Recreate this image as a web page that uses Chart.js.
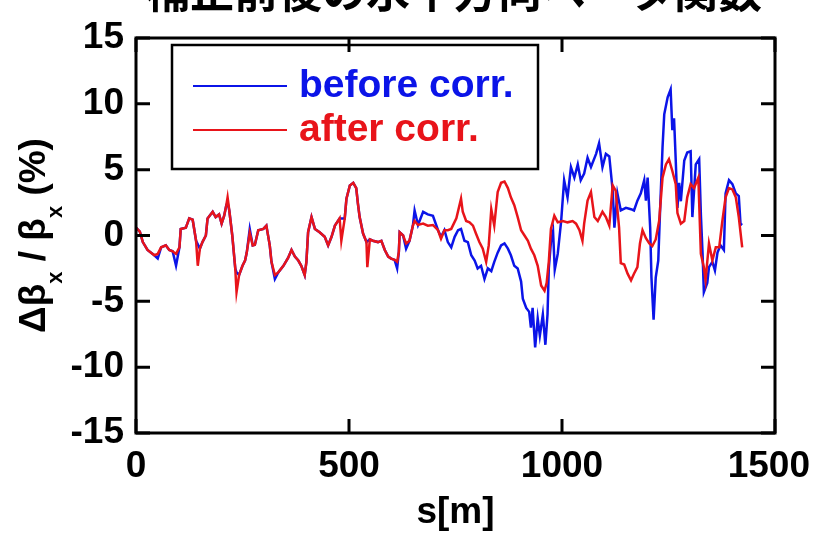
<!DOCTYPE html>
<html>
<head>
<meta charset="utf-8">
<script src="https://cdn.jsdelivr.net/npm/chart.js@4.4.0/dist/chart.umd.min.js"></script>
<style>
  body { margin: 0; background: #fff; }
</style>
</head>
<body>
<canvas id="myChart" width="814" height="535"></canvas>
<script>
var chartTitle = "補正前後の水平方向ベータ関数";
var xTicks = [0, 500, 1000, 1500];
var yTicks = [-15, -10, -5, 0, 5, 10, 15];
var seriesNames = ["before corr.", "after corr."];
var seriesColors = ["#0b14e8", "#e8141a"];

// after correction (red)
var sAfter = [0, 9, 16, 27, 43, 51, 59, 70, 78, 86, 94, 102, 105, 117, 125, 133, 141, 145, 150, 156,
  164, 168, 180, 187, 195, 201, 207, 212, 215, 219, 226, 233, 236, 242, 250, 256, 260, 267, 274, 279,
  287, 299, 306, 314, 318, 326, 334, 346, 357, 365, 373, 381, 388, 396, 400, 404, 412, 420, 431, 443,
  451, 459, 467, 478, 482, 490, 494, 502, 510, 517, 521, 525, 533, 541, 543, 549, 556, 568, 576, 584,
  592, 599, 607, 613, 617, 619, 627, 634, 642, 650, 654, 662, 674, 685, 697, 709, 716, 724, 732, 740,
  752, 763, 767, 775, 783, 791, 798, 806, 814, 822, 828, 834, 841, 849, 857, 865, 873, 880, 888, 896,
  904, 912, 920, 927, 935, 943, 951, 959, 964, 969, 974, 982, 990, 1002, 1013, 1025, 1033, 1041, 1048, 1052,
  1060, 1068, 1076, 1084, 1095, 1103, 1111, 1119, 1126, 1134, 1138, 1146, 1154, 1162, 1169, 1177, 1183, 1189, 1197, 1205,
  1212, 1220, 1228, 1236, 1244, 1251, 1259, 1267, 1271, 1279, 1287, 1294, 1302, 1310, 1320, 1326, 1333, 1337, 1345, 1353,
  1361, 1369, 1376, 1384, 1392, 1400, 1408, 1415, 1423];
var after = [0.6, 0.3, -0.5, -1.1, -1.5, -1.4, -0.9, -0.75, -1.1, -1.2, -1.4, -0.9, 0.5, 0.6, 1.3, 1.2, -0.4, -2.3, -1.0, -0.5,
  0.0, 1.3, 1.8, 1.4, 1.6, 0.9, 1.5, 2.3, 2.9, 1.9, 0.0, -2.5, -4.3, -3.0, -2.3, -1.9, -1.3, 0.2, -0.75, -0.7,
  0.4, 0.5, 0.75, -0.75, -2.0, -3.0, -2.8, -2.3, -1.7, -1.1, -1.6, -1.9, -2.3, -3.0, -2.0, 0.25, 1.4, 0.5, 0.25, -0.1,
  -0.75, -0.1, 0.75, 1.3, -0.4, 1.3, 2.8, 3.8, 4.0, 3.6, 2.4, 1.4, 0.15, -0.5, -2.4, -0.3, -0.4, -0.5, -0.4, -1.1,
  -1.6, -1.75, -1.85, -2.0, -1.25, 0.25, 0.0, -0.6, -0.4, 0.75, 1.1, 0.8, 0.9, 0.75, 0.8, 0.4, -0.25, 0.4, 0.4, 0.5,
  1.3, 2.8, 1.8, 1.1, 1.0, 0.75, 0.15, -0.5, -1.0, -2.0, -0.75, 2.0, 0.75, 3.3, 4.0, 4.1, 3.6, 2.9, 2.3, 1.4,
  0.4, 0.0, -0.4, -1.0, -1.5, -2.3, -3.8, -4.2, -3.6, -2.0, 0.5, 1.5, 1.0, 1.1, 1.0, 1.1, 0.9, 0.4, -0.4, 0.9,
  2.65, 3.3, 1.4, 1.1, 1.8, 1.4, 0.75, 3.8, 3.4, 0.6, -2.1, -2.2, -2.9, -3.4, -2.9, -2.4, -0.6, 0.4, -0.2, -0.6,
  -0.8, -0.3, 1.1, 4.4, 5.4, 5.8, 4.9, 3.9, 1.7, 0.9, 1.1, 2.9, 3.9, 3.6, 4.4, -1.4, -2.4, -3.4, -0.6, -1.9,
  -0.9, -0.9, 1.0, 2.9, 3.6, 3.5, 2.9, 1.4, -0.9];

// before correction (blue)
var sBefore = [0, 9, 16, 27, 43, 51, 59, 70, 78, 86, 94, 102, 105, 117, 125, 133, 141, 150, 156,
  164, 168, 180, 187, 195, 201, 207, 212, 215, 219, 226, 233, 236, 242, 250, 256, 260, 267, 274, 279,
  287, 299, 306, 314, 318, 326, 334, 346, 357, 365, 373, 381, 388, 396, 400, 404, 412, 420, 431, 443,
  451, 459, 467, 478, 490, 494, 502, 510, 517, 521, 525, 533, 541, 549, 556, 568, 576, 584,
  592, 599, 607, 613, 617, 619, 627, 634, 642, 650, 654, 662, 674, 685, 697, 709, 716, 724, 732, 740,
  748, 756, 763, 771, 779, 787, 795, 802, 810, 818, 826, 834, 841, 849, 857, 865, 873, 880, 888, 896,
  904, 908, 916, 923, 927, 931, 937, 943, 948, 955, 961, 966, 969, 974, 979, 983, 990, 998, 1005, 1013,
  1021, 1029, 1037, 1044, 1052, 1060, 1068, 1080, 1087, 1095, 1103, 1111, 1119, 1123, 1130, 1138, 1150, 1162, 1169, 1177,
  1185, 1193, 1197, 1201, 1207, 1210, 1215, 1220, 1226, 1230, 1236, 1240, 1248, 1255, 1259, 1263, 1267, 1271, 1275, 1279,
  1287, 1294, 1302, 1306, 1314, 1322, 1326, 1330, 1333, 1341, 1345, 1353, 1359, 1365, 1372, 1380, 1384, 1392, 1400, 1408,
  1415, 1419, 1423];
var before = [0.6, 0.3, -0.5, -1.1, -1.5, -1.75, -0.9, -0.75, -1.1, -1.2, -2.3, -0.9, 0.5, 0.6, 1.3, 1.2, -0.4, -1.0, -0.5,
  0.0, 1.3, 1.8, 1.4, 1.6, 0.9, 1.5, 2.3, 2.5, 1.9, 0.0, -2.5, -2.8, -3.0, -2.3, -1.9, -1.3, 0.5, -0.75, -0.7,
  0.4, 0.5, 0.75, -0.75, -2.0, -3.3, -2.8, -2.3, -1.7, -1.1, -1.6, -1.9, -2.3, -3.0, -2.0, 0.25, 1.4, 0.5, 0.25, -0.1,
  -0.75, -0.1, 0.75, 1.3, 1.3, 2.8, 3.8, 4.0, 3.6, 2.4, 1.4, 0.15, -0.5, -0.3, -0.4, -0.5, -0.4, -1.1,
  -1.6, -1.75, -1.85, -2.5, -1.25, 0.25, 0.0, -1.0, -0.4, 0.75, 1.9, 0.8, 1.8, 1.6, 1.5, 0.4, -0.1, 0.4, -0.5, -0.9,
  -0.1, 0.4, 0.5, -0.4, -0.5, -1.5, -1.9, -2.5, -2.3, -3.3, -2.5, -2.7, -2.0, -1.3, -0.75, -0.6, -1.0, -1.5, -2.3, -2.5,
  -3.5, -4.8, -5.5, -5.8, -7.0, -5.5, -8.5, -6.3, -7.6, -6.0, -8.3, -6.0, -2.5, -0.5, 0.3, -2.6, -1.4, 1.1, 4.2, 2.9,
  5.2, 4.4, 5.4, 4.2, 4.7, 5.9, 5.2, 6.2, 7.0, 5.2, 6.2, 6.0, 3.4, 0.6, 3.2, 1.9, 2.1, 2.0, 1.9, 2.65,
  3.2, 4.2, 2.65, 4.4, 0.6, -3.2, -6.4, -3.2, -1.9, 1.7, 6.7, 9.2, 10.5, 11.1, 8.0, 8.9, 5.7, 2.1, 4.0, 2.6,
  5.7, 6.3, 6.4, 1.4, 5.4, 5.8, 1.6, -1.4, -4.3, -3.6, -2.4, -2.0, -2.65, -1.3, -0.75, -1.1, 3.2, 4.2, 3.9, 3.2,
  3.0, 0.9, 0.8];

var FONT = "'Liberation Sans', Arial, sans-serif";

function toPoints(xs, ys) {
  return xs.map(function (x, i) { return { x: x, y: ys[i] }; });
}

// frame, inward ticks, labels, legend and title
var framePlugin = {
  id: 'frame',
  afterDraw: function (chart) {
    var ctx = chart.ctx;
    var a = chart.chartArea;
    var xs = chart.scales.x, ys = chart.scales.y;
    ctx.save();
    ctx.strokeStyle = '#000';
    ctx.lineWidth = 3;
    ctx.strokeRect(a.left, a.top, a.right - a.left, a.bottom - a.top);

    ctx.beginPath();
    yTicks.forEach(function (v) {
      var py = ys.getPixelForValue(v);
      ctx.moveTo(a.left, py); ctx.lineTo(a.left + 14, py);
      ctx.moveTo(a.right, py); ctx.lineTo(a.right - 14, py);
    });
    xTicks.forEach(function (v) {
      var px = xs.getPixelForValue(v);
      ctx.moveTo(px, a.bottom); ctx.lineTo(px, a.bottom - 14);
      ctx.moveTo(px, a.top); ctx.lineTo(px, a.top + 14);
    });
    ctx.stroke();

    // x tick labels
    ctx.fillStyle = '#000';
    ctx.font = 'bold 37px ' + FONT;
    ctx.textAlign = 'center';
    ctx.textBaseline = 'top';
    xTicks.forEach(function (v) {
      var px = xs.getPixelForValue(v);
      var w = ctx.measureText(String(v)).width;
      if (px + w / 2 > chart.width - 4) px = chart.width - 4 - w / 2;
      ctx.fillText(String(v), px, a.bottom + 15);
    });

    // x title
    ctx.textBaseline = 'middle';
    ctx.fillText('s[m]', (a.left + a.right) / 2, 513);

    // y title with subscripts
    var parts = [['Δβ', 0], ['x', 1], [' / β', 0], ['x', 1], [' (%)', 0]];
    var big = 'bold 37px ' + FONT, small = 'bold 22px ' + FONT;
    var total = 0;
    parts.forEach(function (p) { ctx.font = p[1] ? small : big; total += ctx.measureText(p[0]).width; });
    ctx.translate(45, (a.top + a.bottom) / 2);
    ctx.rotate(-Math.PI / 2);
    ctx.textAlign = 'left';
    ctx.textBaseline = 'alphabetic';
    var cx = -total / 2;
    parts.forEach(function (p) {
      ctx.font = p[1] ? small : big;
      ctx.fillText(p[0], cx, p[1] ? 17 : 0);
      cx += ctx.measureText(p[0]).width;
    });
    ctx.setTransform(1, 0, 0, 1, 0, 0);

    // legend box
    ctx.lineWidth = 2.5;
    ctx.strokeStyle = '#000';
    ctx.strokeRect(172, 45, 366, 124);
    ctx.font = 'bold 39px ' + FONT;
    ctx.textBaseline = 'middle';
    ctx.textAlign = 'left';
    [86, 130].forEach(function (ly, i) {
      ctx.strokeStyle = seriesColors[i];
      ctx.lineWidth = 2;
      ctx.beginPath();
      ctx.moveTo(193, ly); ctx.lineTo(287, ly);
      ctx.stroke();
      ctx.fillStyle = seriesColors[i];
      ctx.fillText(seriesNames[i], 299, ly);
    });

    // chart title, cut by the top edge
    ctx.fillStyle = '#000';
    ctx.font = "bold 44px 'Noto Sans CJK JP', sans-serif";
    ctx.textAlign = 'center';
    ctx.textBaseline = 'alphabetic';
    ctx.fillText(chartTitle, 454, 8);
    ctx.restore();
  }
};

var ctx = document.getElementById("myChart");
var myChart = new Chart(ctx, {
  type: 'line',
  data: {
    datasets: [
      {
        label: seriesNames[0],
        data: toPoints(sBefore, before),
        borderColor: seriesColors[0],
        borderWidth: 2.5,
        pointRadius: 0,
        tension: 0,
        order: 2
      },
      {
        label: seriesNames[1],
        data: toPoints(sAfter, after),
        borderColor: seriesColors[1],
        borderWidth: 2.5,
        pointRadius: 0,
        tension: 0,
        order: 1
      }
    ]
  },
  options: {
    responsive: false,
    animation: false,
    devicePixelRatio: 1,
    layout: { padding: { top: 38, right: 39, bottom: 0, left: 0 } },
    plugins: { legend: { display: false }, tooltip: { enabled: false } },
    scales: {
      x: {
        type: 'linear',
        min: 0,
        max: 1500,
        ticks: { display: false },
        grid: { display: false, drawTicks: false },
        border: { display: false },
        afterFit: function (axis) { axis.height = 102; }
      },
      y: {
        min: -15,
        max: 15,
        afterBuildTicks: function (axis) {
          axis.ticks = yTicks.map(function (v) { return { value: v }; });
        },
        ticks: {
          color: '#000',
          padding: 12,
          font: { family: FONT, size: 37, weight: 'bold' }
        },
        grid: { display: false, drawTicks: false },
        border: { display: false },
        afterFit: function (axis) { axis.width = 136; }
      }
    }
  },
  plugins: [framePlugin]
});
</script>
</body>
</html>
